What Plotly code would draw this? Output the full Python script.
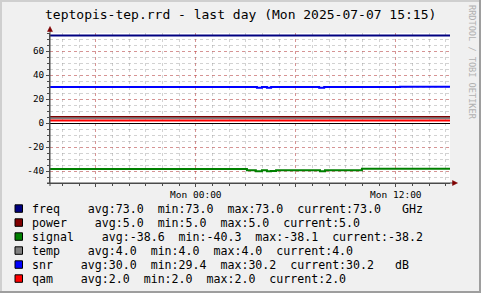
import plotly.graph_objects as go

# ---------------- data ----------------
t_start = "2025-07-06 15:15"
t_end = "2025-07-07 15:15"

const_times = [t_start, t_end]
freq_vals = [73.0, 73.0]
power_vals = [5.0, 5.0]
temp_vals = [4.0, 4.0]
qam_vals = [2.0, 2.0]

snr_times = ["2025-07-06 15:15", "2025-07-07 03:40", "2025-07-07 03:58",
             "2025-07-07 04:16", "2025-07-07 04:31", "2025-07-07 07:24",
             "2025-07-07 07:42", "2025-07-07 12:15", "2025-07-07 15:15"]
snr_vals = [30.0, 29.4, 30.0, 29.4, 30.0, 29.4, 30.0, 30.2, 30.2]

signal_times = ["2025-07-06 15:15", "2025-07-07 03:04", "2025-07-07 03:36",
                "2025-07-07 03:58", "2025-07-07 04:16", "2025-07-07 04:31",
                "2025-07-07 04:49", "2025-07-07 07:27", "2025-07-07 07:45",
                "2025-07-07 09:58", "2025-07-07 15:15"]
signal_vals = [-38.3, -39.4, -40.3, -39.4, -40.2, -39.9, -39.4, -40.3, -39.4, -38.2, -38.2]

series_names = ["freq", "power", "signal", "temp", "snr", "qam"]
series_colors = ["#000080", "#800000", "#008000", "#808080", "#0000FF", "#FF0000"]
stat_avg = [73.0, 5.0, -38.6, 4.0, 30.0, 2.0]
stat_min = [73.0, 5.0, -40.3, 4.0, 29.4, 2.0]
stat_max = [73.0, 5.0, -38.1, 4.0, 30.2, 2.0]
stat_cur = [73.0, 5.0, -38.2, 4.0, 30.2, 2.0]
stat_unit = ["GHz", "", "", "", "dB", ""]

x_tick_vals = ["2025-07-06 18:00", "2025-07-07 00:00", "2025-07-07 06:00", "2025-07-07 12:00"]
x_tick_text = ["", "Mon 00:00", "", "Mon 12:00"]
y_tick_vals = [-40, -20, 0, 20, 40, 60]
y_tick_text = ["-40", "-20", "0", "20", "40", "60"]

title_text = "teptopis-tep.rrd - last day (Mon 2025-07-07 15:15)"
side_text = "RRDTOOL / TOBI OETIKER"

# ---------------- figure ----------------
MONO = "DejaVu Sans Mono"
W, H = 481, 293
L, R, T, B = 50, 31, 33, 110
PW, PH = W - L - R, H - T - B


def px(x):
    return (x - L) / PW


def py(y):
    return (H - B - y) / PH


series_x = [const_times, const_times, signal_times, const_times, snr_times, const_times]
series_y = [freq_vals, power_vals, signal_vals, temp_vals, snr_vals, qam_vals]

fig = go.Figure()
for name, color, xs, ys in zip(series_names, series_colors, series_x, series_y):
    fig.add_trace(go.Scatter(x=xs, y=ys, mode="lines", name=name,
                             line=dict(color=color, width=2, shape="hv"),
                             hoverinfo="skip", showlegend=False))

GRID = "rgba(143,143,143,0.40)"
MGRID = "rgba(222,48,48,0.38)"
AXIS = "#4a4a4a"

fig.update_layout(
    width=W, height=H, autosize=False,
    margin=dict(l=L, r=R, t=T, b=B, pad=0),
    paper_bgcolor="#F0F0F0", plot_bgcolor="#FFFFFF",
    showlegend=False,
    font=dict(family=MONO, color="#000000"),
    xaxis=dict(
        type="date", range=[t_start, t_end],
        tickmode="array", tickvals=x_tick_vals, ticktext=x_tick_text,
        showgrid=True, gridcolor=MGRID, griddash="dot", gridwidth=1,
        ticks="outside", ticklen=3, tickcolor=AXIS,
        showline=True, linecolor=AXIS, linewidth=1,
        zeroline=False, tickfont=dict(family=MONO, size=9.5, color="#000000"),
        minor=dict(tickmode="linear", tick0="2025-07-06 00:00", dtick=3600000,
                   showgrid=True, gridcolor=GRID, griddash="dot", gridwidth=1,
                   ticks="outside", ticklen=2, tickcolor=AXIS),
    ),
    yaxis=dict(
        range=[-50, 75],
        tickmode="array", tickvals=y_tick_vals, ticktext=y_tick_text,
        showgrid=True, gridcolor=MGRID, griddash="dot", gridwidth=1,
        ticks="outside", ticklen=3, tickcolor=AXIS,
        showline=True, linecolor=AXIS, linewidth=1,
        zeroline=True, zerolinecolor="#000000", zerolinewidth=1,
        tickfont=dict(family=MONO, size=9.3, color="#000000"),
        minor=dict(tickmode="linear", tick0=0, dtick=5,
                   showgrid=True, gridcolor=GRID, griddash="dot", gridwidth=1,
                   ticks="outside", ticklen=2, tickcolor=AXIS),
    ),
)

shapes = []
# axis extensions
shapes.append(dict(type="line", xref="paper", yref="paper", x0=0, x1=0,
                   y0=py(186), y1=py(29), line=dict(color=AXIS, width=1)))
shapes.append(dict(type="line", xref="paper", yref="paper", x0=px(47), x1=px(454),
                   y0=0, y1=0, line=dict(color=AXIS, width=1)))
# arrows
shapes.append(dict(type="path", xref="paper", yref="paper",
                   path=f"M {px(47.5)} {py(31.5)} L {px(50)} {py(26.5)} L {px(52.5)} {py(31.5)} Z",
                   fillcolor="#7F0000", line=dict(color="#7F0000", width=0.5)))
shapes.append(dict(type="path", xref="paper", yref="paper",
                   path=f"M {px(452.5)} {py(180.5)} L {px(457.5)} {py(183)} L {px(452.5)} {py(185.5)} Z",
                   fillcolor="#7F0000", line=dict(color="#7F0000", width=0.5)))
# outer shade border
shapes.append(dict(type="line", xref="paper", yref="paper", x0=px(0), x1=px(W),
                   y0=py(1), y1=py(1), line=dict(color="#CFCFCF", width=2)))
shapes.append(dict(type="line", xref="paper", yref="paper", x0=px(1), x1=px(1),
                   y0=py(0), y1=py(H), line=dict(color="#CFCFCF", width=2)))
shapes.append(dict(type="line", xref="paper", yref="paper", x0=px(0), x1=px(W),
                   y0=py(H - 1), y1=py(H - 1), line=dict(color="#9E9E9E", width=2)))
shapes.append(dict(type="line", xref="paper", yref="paper", x0=px(W - 1), x1=px(W - 1),
                   y0=py(0), y1=py(H), line=dict(color="#9E9E9E", width=2)))

annotations = []
annotations.append(dict(text=title_text, xref="paper", yref="paper",
                        x=px(240.5), y=py(14.5), xanchor="center", yanchor="middle",
                        showarrow=False, font=dict(family=MONO, size=13, color="#000000")))
annotations.append(dict(text=side_text, xref="paper", yref="paper",
                        x=px(472), y=py(62), xanchor="center", yanchor="middle",
                        textangle=90, showarrow=False,
                        font=dict(family=MONO, size=8.6, color="#B0B0B0")))

NB = "\u00a0"
for i, name in enumerate(series_names):
    cy = 209.3 + 14 * i
    parts = [name + " " * 4,
             f"avg:{stat_avg[i]:.1f}", "  ",
             f"min:{stat_min[i]:.1f}", "  ",
             f"max:{stat_max[i]:.1f}", "  ",
             f"current:{stat_cur[i]:.1f}"]
    if stat_unit[i]:
        parts.append("   " + stat_unit[i])
    line_txt = "".join(parts).replace(" ", NB)
    annotations.append(dict(text=line_txt, xref="paper", yref="paper",
                            x=px(30), y=py(cy), xanchor="left", yanchor="middle",
                            showarrow=False,
                            font=dict(family=MONO, size=11.6, color="#000000")))
    shapes.append(dict(type="rect", xref="paper", yref="paper",
                       x0=px(15), x1=px(22.5), y0=py(cy - 4.5), y1=py(cy + 3),
                       fillcolor=series_colors[i], line=dict(color="#000000", width=1)))

fig.update_layout(shapes=shapes, annotations=annotations)
fig.write_html("out.html")
